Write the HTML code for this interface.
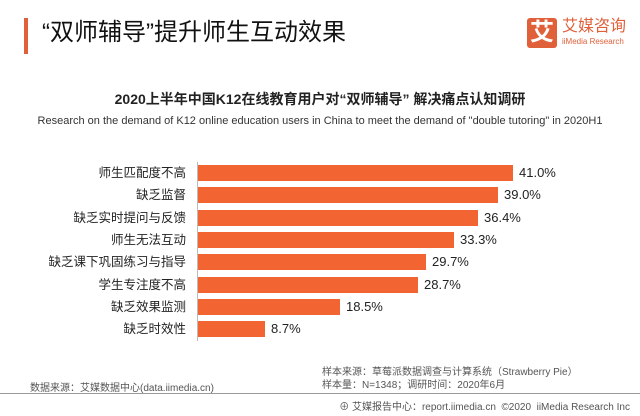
<!DOCTYPE html>
<html><head><meta charset="utf-8"><style>
body{margin:0;width:640px;height:416px;background:#fff;font-family:"Liberation Sans","Noto Sans CJK SC",sans-serif;position:relative;overflow:hidden;color:#222}
.a{position:absolute;white-space:nowrap}
.lbl{position:absolute;right:454px;font-size:12.5px;line-height:16px;color:#222}
.bar{position:absolute;left:198px;height:16px;background:#f26533}
.val{position:absolute;font-size:13px;line-height:16px;color:#222}
</style></head><body>
<div class="a" style="left:24px;top:18px;width:4px;height:36px;background:#e0603a"></div>
<div class="a" style="left:42px;top:17px;font-size:24px;line-height:32px;color:#111">“双师辅导”提升师生互动效果</div>
<div class="a" style="left:527px;top:18px;width:30px;height:30px;background:#e0603a;border-radius:3px;color:#fff;font-size:24px;line-height:30px;text-align:center;font-weight:bold">艾</div>
<div class="a" style="left:562px;top:18px;font-size:16px;line-height:18px;color:#e0603a">艾媒咨询</div>
<div class="a" style="left:562px;top:37px;font-size:8px;line-height:10px;color:#e0603a">iiMedia Research</div>
<div class="a" style="left:0;width:640px;top:90px;text-align:center;font-size:14px;font-weight:bold;line-height:18px">2020上半年中国K12在线教育用户对“双师辅导” 解决痛点认知调研</div>
<div class="a" style="left:0;width:640px;top:113px;text-align:center;font-size:11px;line-height:16px;color:#333">Research on the demand of K12 online education users in China to meet the demand of "double tutoring" in 2020H1</div>
<div class="a" style="left:197px;top:162px;width:1px;height:179px;background:#bbb"></div>
<div class="lbl" style="top:165px">师生匹配度不高</div><div class="bar" style="top:165px;width:315px"></div><div class="val" style="top:165px;left:519px">41.0%</div>
<div class="lbl" style="top:187px">缺乏监督</div><div class="bar" style="top:187px;width:300px"></div><div class="val" style="top:187px;left:504px">39.0%</div>
<div class="lbl" style="top:210px">缺乏实时提问与反馈</div><div class="bar" style="top:210px;width:280px"></div><div class="val" style="top:210px;left:484px">36.4%</div>
<div class="lbl" style="top:232px">师生无法互动</div><div class="bar" style="top:232px;width:256px"></div><div class="val" style="top:232px;left:460px">33.3%</div>
<div class="lbl" style="top:254px">缺乏课下巩固练习与指导</div><div class="bar" style="top:254px;width:228px"></div><div class="val" style="top:254px;left:432px">29.7%</div>
<div class="lbl" style="top:277px">学生专注度不高</div><div class="bar" style="top:277px;width:220px"></div><div class="val" style="top:277px;left:424px">28.7%</div>
<div class="lbl" style="top:299px">缺乏效果监测</div><div class="bar" style="top:299px;width:142px"></div><div class="val" style="top:299px;left:346px">18.5%</div>
<div class="lbl" style="top:321px">缺乏时效性</div><div class="bar" style="top:321px;width:67px"></div><div class="val" style="top:321px;left:271px">8.7%</div>
<div class="a" style="left:30px;top:379px;font-size:10px;color:#555">数据来源：艾媒数据中心(data.iimedia.cn)</div>
<div class="a" style="left:322px;top:366px;font-size:10px;line-height:13px;color:#555">样本来源：草莓派数据调查与计算系统（Strawberry Pie）<br>样本量：N=1348；调研时间：2020年6月</div>
<div class="a" style="left:0;top:393px;width:640px;height:1px;background:#999"></div>
<div class="a" style="right:10px;top:398px;font-size:10px;color:#555">⊕ 艾媒报告中心：report.iimedia.cn &nbsp;©2020 &nbsp;iiMedia Research Inc</div>
</body></html>
